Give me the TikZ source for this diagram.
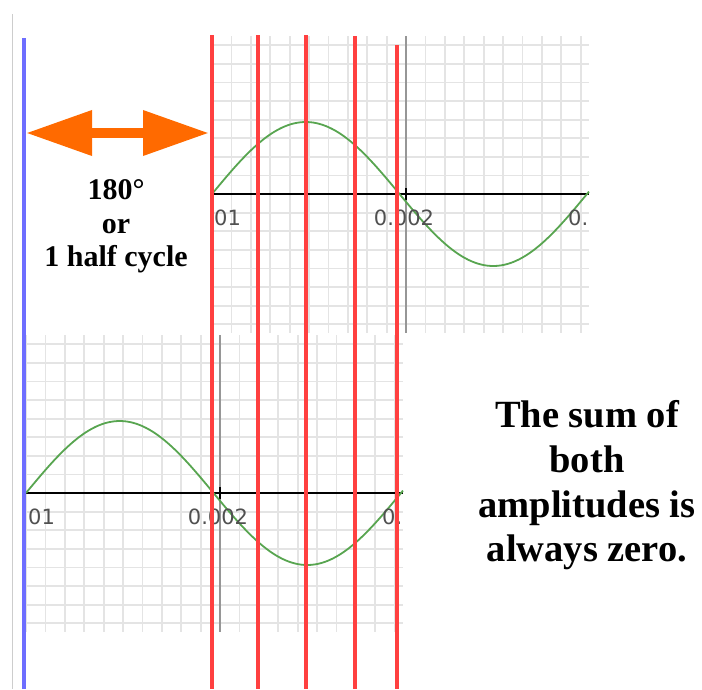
\documentclass[tikz,border=0pt]{standalone}
\usepackage{fontspec}
\setmainfont{Liberation Serif}
\newfontfamily\axisfont{DejaVu Sans}
\usepackage{tikz}
\usetikzlibrary{arrows.meta}

\definecolor{gridgray}{RGB}{228,228,228}
\definecolor{zerogray}{RGB}{150,150,150}
\definecolor{labelgray}{RGB}{80,80,80}
\definecolor{edgegray}{RGB}{205,205,205}
\definecolor{wavegreen}{RGB}{88,165,80}
\definecolor{markred}{RGB}{255,64,64}
\definecolor{markblue}{RGB}{110,110,255}
\definecolor{phaseorange}{RGB}{255,106,0}

\begin{document}
\begin{tikzpicture}[
      x=1pt, y=-1pt,
      gridline/.style={gridgray, line width=1.8pt},
      zeroline/.style={zerogray, line width=1.6pt},
      axisline/.style={black, line width=2.6pt},
      wave/.style={wavegreen, line width=1.8pt},
      ticklabel/.style={font=\axisfont\fontsize{21}{21}\selectfont, text=labelgray, inner sep=0pt},
      redline/.style={markred, line width=4.2pt},
      blueline/.style={markblue, line width=4.2pt},
      edgeline/.style={edgegray, line width=1pt},
      phasearrow/.style={phaseorange, line width=10pt,
        {Triangle[length=66pt, width=43pt]}-{Triangle[length=66pt, width=43pt]}},
      sidetext/.style={font=\bfseries\fontsize{30}{33.5}\selectfont, align=center, inner sep=0pt},
      sumtext/.style={font=\bfseries\fontsize{38.5}{44.7}\selectfont, align=center, inner sep=0pt}
    ]
    \useasboundingbox (0,0) rectangle (702,689);

    % the two sine plots, half a cycle apart
    \foreach \ox/\oy/\g in {212/194/top, 26/493/bot} {
      \foreach \k in {-10,...,9}
        \draw[gridline] ({\ox+194+19.4*\k},{\oy-158}) -- ({\ox+194+19.4*\k},{\oy+139});
      \foreach \k in {-8,...,7}
        \draw[gridline] (\ox,{\oy+18.6*\k}) -- ({\ox+377},{\oy+18.6*\k});
      \draw[zeroline] ({\ox+194},{\oy-158}) -- ({\ox+194},{\oy+139});
      \draw[axisline] (\ox,\oy) -- ({\ox+377},\oy);
      \draw[black, line width=1.6pt] ({\ox+194},{\oy-6}) -- ({\ox+194},{\oy+6});
      \draw[wave] plot[domain=0:377, samples=120] ({\ox+\x},{\oy-72*sin(0.96*\x)});
      \node[ticklabel, anchor=west] (\g-01) at ({\ox+2},{\oy+24}) {01};
      \node[ticklabel] (\g-002) at ({\ox+192},{\oy+24}) {0.002};
      \node[ticklabel, anchor=west] (\g-0) at ({\ox+356},{\oy+24}) {0.};
    }

    \draw[edgeline] (12,14) -- (12,689);
    \foreach \x/\t in {212/35, 258/35, 306/35, 355/36, 397/45}
      \draw[redline] (\x,\t) -- (\x,689);
    \draw[blueline] (24,38) -- (24,689);

    \coordinate (shiftstart) at (26,133);
    \coordinate (shiftend) at (209,133);
    \draw[phasearrow] (shiftstart) -- (shiftend);

    \node[sidetext] (phase) at (116,226.5) {180°\\or\\1 half cycle};
    \node[sumtext] (sum) at (587,485.5) {The sum of\\both\\amplitudes is\\always zero.};
  \end{tikzpicture}
\end{document}
